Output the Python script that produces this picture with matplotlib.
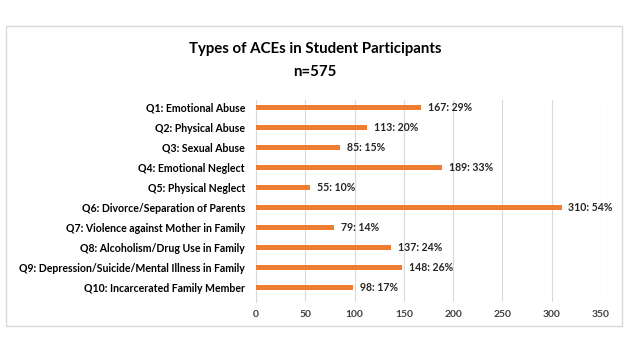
import matplotlib.pyplot as plt
from matplotlib.patches import Rectangle

# data
categories = ['Q1: Emotional Abuse', 'Q2: Physical Abuse', 'Q3: Sexual Abuse',
              'Q4: Emotional Neglect', 'Q5: Physical Neglect',
              'Q6: Divorce/Separation of Parents', 'Q7: Violence against Mother in Family',
              'Q8: Alcoholism/Drug Use in Family',
              'Q9: Depression/Suicide/Mental Illness in Family',
              'Q10: Incarcerated Family Member']
counts = [167, 113, 85, 189, 55, 310, 79, 137, 148, 98]
percents = [29, 20, 15, 33, 10, 54, 14, 24, 26, 17]
xticks = [0, 50, 100, 150, 200, 250, 300, 350]

plt.rcParams['font.family'] = ['Lato', 'DejaVu Sans']

W, H = 627, 347
fig = plt.figure(figsize=(W / 100, H / 100), dpi=100)

# outer chart border
fig.patches.append(Rectangle((6 / W, 1 - 326 / H), 616 / W, 300 / H,
                             transform=fig.transFigure, fill=False,
                             edgecolor='#D9D9D9', linewidth=1))

fig.text(315 / W, 1 - 49 / H, 'Types of ACEs in Student Participants',
         ha='center', va='center', fontsize=10.8, fontweight='bold', color='black')
fig.text(315 / W, 1 - 72 / H, 'n=575',
         ha='center', va='center', fontsize=10.8, fontweight='bold', color='black')

ax = fig.add_axes([256 / W, 1 - 301.7 / H, 345 / W, 201.7 / H])
y = list(range(len(categories)))
ax.barh(y, counts, height=0.26, color='#ED7D31', zorder=3)

for yi, c, p in zip(y, counts, percents):
    ax.text(c + 7, yi, f'{c}: {p}%', va='center', ha='left',
            fontsize=7.6, fontweight='bold', color='#262626')

ax.set_xlim(0, 350)
ax.set_ylim(9.7, -0.37)
ax.set_xticks(xticks)
ax.set_yticks(y)
ax.set_yticklabels(categories, fontsize=7.6, fontweight='bold', color='black')
ax.tick_params(axis='x', labelsize=7.4, colors='#404040', length=0, pad=6)
ax.tick_params(axis='y', length=0, pad=8)
for lab in ax.get_xticklabels():
    lab.set_fontweight('bold')

ax.grid(axis='x', color='#D9D9D9', linewidth=0.8, zorder=0)
for s in ['top', 'right', 'bottom']:
    ax.spines[s].set_visible(False)
ax.spines['left'].set_color('#D9D9D9')
ax.spines['left'].set_linewidth(0.8)

fig.savefig('out.png', dpi=100)
